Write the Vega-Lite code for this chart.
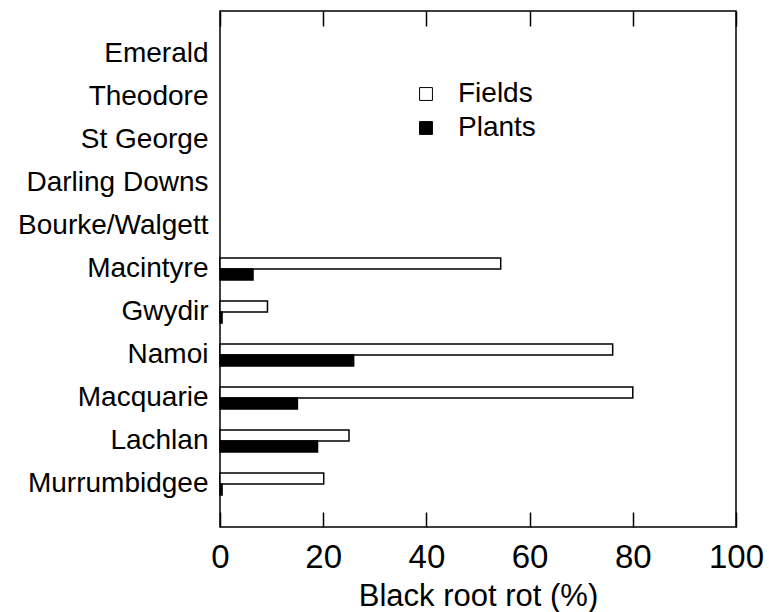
{
  "$schema": "https://vega.github.io/schema/vega-lite/v6.json",
  "width": 516,
  "height": 516,
  "autosize": {"type": "none"},
  "padding": {"left": 220, "top": 11, "right": 33, "bottom": 85},
  "config": {
    "font": "Liberation Sans",
    "view": {"stroke": "black", "strokeWidth": 1.5},
    "axis": {"grid": false}
  },
  "data": {
    "values": [
      {"region": "Macintyre", "series": "Fields", "value": 54.4},
      {"region": "Macintyre", "series": "Plants", "value": 6.4},
      {"region": "Gwydir", "series": "Fields", "value": 9.2},
      {"region": "Gwydir", "series": "Plants", "value": 0.4},
      {"region": "Namoi", "series": "Fields", "value": 76.1},
      {"region": "Namoi", "series": "Plants", "value": 25.9},
      {"region": "Macquarie", "series": "Fields", "value": 80.0},
      {"region": "Macquarie", "series": "Plants", "value": 15.0},
      {"region": "Lachlan", "series": "Fields", "value": 25.0},
      {"region": "Lachlan", "series": "Plants", "value": 18.9},
      {"region": "Murrumbidgee", "series": "Fields", "value": 20.1},
      {"region": "Murrumbidgee", "series": "Plants", "value": 0.4}
    ]
  },
  "resolve": {"axis": {"x": "independent"}},
  "layer": [
    {
      "mark": {"type": "bar", "stroke": "black", "strokeWidth": 1.5},
      "encoding": {
        "y": {
          "field": "region",
          "type": "nominal",
          "sort": null,
          "scale": {
            "domain": ["Emerald", "Theodore", "St George", "Darling Downs", "Bourke/Walgett", "Macintyre", "Gwydir", "Namoi", "Macquarie", "Lachlan", "Murrumbidgee"],
            "paddingInner": 0.486,
            "paddingOuter": 0.743
          },
          "axis": {
            "title": null,
            "ticks": false,
            "domain": false,
            "labelFontSize": 28,
            "labelColor": "black",
            "labelPadding": 12,
            "labelLimit": 0
          }
        },
        "yOffset": {"field": "series", "type": "nominal", "sort": ["Fields", "Plants"]},
        "x": {
          "field": "value",
          "type": "quantitative",
          "scale": {"domain": [0, 100], "nice": false},
          "axis": {
            "orient": "bottom",
            "values": [0, 20, 40, 60, 80, 100],
            "domain": false,
            "tickSize": -15,
            "tickWidth": 1.5,
            "tickColor": "black",
            "labelFontSize": 33,
            "labelColor": "black",
            "labelPadding": 29,
            "labelFlush": false,
            "title": "Black root rot (%)",
            "titleFontSize": 31,
            "titleFontWeight": "normal",
            "titleColor": "black",
            "titlePadding": 7
          }
        },
        "fill": {
          "field": "series",
          "type": "nominal",
          "scale": {"domain": ["Fields", "Plants"], "range": ["white", "black"]},
          "legend": {
            "title": null,
            "orient": "none",
            "legendX": 192,
            "legendY": 69,
            "padding": 0,
            "symbolType": "square",
            "symbolSize": 165,
            "symbolStrokeColor": "black",
            "symbolStrokeWidth": 1,
            "labelFontSize": 28,
            "labelColor": "black",
            "labelOffset": 18,
            "rowPadding": 6
          }
        }
      }
    },
    {
      "mark": {"type": "tick", "opacity": 0},
      "encoding": {
        "x": {
          "field": "value",
          "type": "quantitative",
          "axis": {
            "orient": "top",
            "values": [0, 20, 40, 60, 80, 100],
            "domain": false,
            "labels": false,
            "tickSize": -15,
            "tickWidth": 1.5,
            "tickColor": "black",
            "title": null
          }
        }
      }
    }
  ]
}
